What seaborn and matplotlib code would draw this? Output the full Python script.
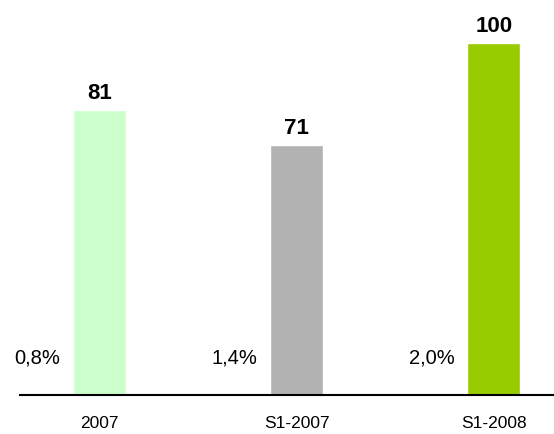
import pandas as pd
import matplotlib
matplotlib.use('Agg')
import matplotlib.pyplot as plt
import seaborn as sns

# values
periods = ['2007', 'S1-2007', 'S1-2008']
index_values = [81, 71, 100]
pct_labels = ['0,8%', '1,4%', '2,0%']
bar_colors = ['#CCFFCC', '#B2B2B2', '#99CC00']

sns.set_style('white')
plt.rcParams['font.family'] = ['Liberation Sans', 'DejaVu Sans']
plt.rcParams['text.color'] = 'black'
plt.rcParams['xtick.color'] = 'black'

df = pd.DataFrame({'period': periods, 'value': index_values})

fig = plt.figure(figsize=(5.54, 4.34), dpi=100)
ax = fig.add_axes([20 / 554, 39 / 434, 534 / 554, 395 / 434])

sns.barplot(data=df, x='period', y='value', hue='period', palette=bar_colors,
            width=0.27, saturation=1, legend=False, ax=ax)

# value labels on top of bars
for i, v in enumerate(index_values):
    ax.annotate(str(v), (i, v), xytext=(0, 4), textcoords='offset points',
                ha='center', va='bottom', fontsize=16, fontweight='bold')

# growth labels left of each bar
for i, txt in enumerate(pct_labels):
    ax.text(i - 0.2, 10.5, txt, ha='right', va='center', fontsize=14.5)

ax.set_xlim(-0.404, 2.305)
ax.set_ylim(0, 112.2)
ax.set_xlabel('')
ax.set_ylabel('')
ax.set_yticks([])
ax.tick_params(axis='x', length=0, labelsize=12.5, pad=15)
for s in ['top', 'right', 'left']:
    ax.spines[s].set_visible(False)
ax.spines['bottom'].set_color('black')
ax.spines['bottom'].set_linewidth(1.5)

fig.savefig('out.png', dpi=100)
